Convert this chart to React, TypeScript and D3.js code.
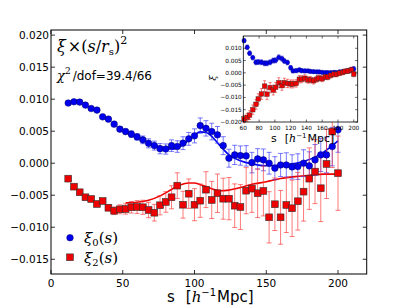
import React from 'react';
import * as d3 from 'd3';

// main panel: monopole / quadrupole times (s/rs)^2
const sMain = [12, 16, 20, 24, 28, 32, 36, 40, 44, 48, 52, 56, 60, 64, 68, 72, 76, 80, 84, 88, 92, 96, 100, 104,
  108, 112, 116, 120, 124, 128, 132, 136, 140, 144, 148, 152, 156, 160, 164, 168, 172, 176, 180, 184, 188, 192, 196, 200];
const xi0 = [0.00939, 0.00959, 0.00954, 0.00907, 0.00854, 0.00829, 0.00724, 0.00688, 0.0061, 0.00532, 0.00494, 0.00454,
  0.00411, 0.00365, 0.0031, 0.00275, 0.00227, 0.00221, 0.00274, 0.0026, 0.00313, 0.0038, 0.00427, 0.00587, 0.00544,
  0.00494, 0.00443, 0.00274, 0.00078, 0.0013, 0.00119, 0.00114, 0.00009, 0.00067, 0.00052, 0.0, -0.00078, -0.00027,
  -0.00027, -0.00058, -0.00053, 0.0, -0.00042, 0.00052, 0.0013, 0.0013, 0.0026, 0.00521];
const xi0Err = [0.0001, 0.0001, 0.0001, 0.0001, 0.0001, 0.0002, 0.0002, 0.0002, 0.0003, 0.0003, 0.0004, 0.0005, 0.0005,
  0.0006, 0.0007, 0.0007, 0.0008, 0.0008, 0.0009, 0.0009, 0.001, 0.001, 0.0011, 0.0012, 0.0012, 0.0013, 0.0013, 0.0014,
  0.0014, 0.0015, 0.0015, 0.0016, 0.0016, 0.0016, 0.0017, 0.0017, 0.0018, 0.0018, 0.0019, 0.0019, 0.002, 0.0021, 0.0022,
  0.0024, 0.0026, 0.0028, 0.003, 0.0035];
const xi2 = [-0.00241, -0.00366, -0.00454, -0.00532, -0.00559, -0.00637, -0.0059, -0.00695, -0.00742, -0.0072, -0.00715,
  -0.00688, -0.00684, -0.00688, -0.00731, -0.00773, -0.00657, -0.00605, -0.00532, -0.0035, -0.00648, -0.00476, -0.00648,
  -0.00585, -0.00413, -0.00574, -0.00469, -0.00554, -0.00554, -0.00663, -0.00684, -0.00429, -0.00397, -0.00469, -0.00433,
  -0.00845, -0.00641, -0.00845, -0.00652, -0.00704, -0.00594, -0.00444, -0.00241, -0.00131, -0.00391, -0.00011, 0.00494,
  -0.00156];
const xi2Err = [0.0002, 0.0002, 0.0002, 0.0002, 0.0003, 0.0003, 0.0004, 0.0005, 0.0006, 0.0007, 0.0008, 0.0009, 0.001,
  0.0011, 0.0012, 0.0013, 0.0015, 0.0016, 0.0018, 0.002, 0.0021, 0.0023, 0.0025, 0.0026, 0.0028, 0.0029, 0.003, 0.0032,
  0.0033, 0.0034, 0.0035, 0.0036, 0.0037, 0.0038, 0.0039, 0.004, 0.0041, 0.0042, 0.0043, 0.0044, 0.0045, 0.0046, 0.0048,
  0.005, 0.0052, 0.0054, 0.0056, 0.0058];

// best-fit model curves
const sModel0 = [52, 60, 70, 80, 85, 90, 95, 100, 104, 108, 112, 116, 120, 124, 132, 140, 150, 160, 173, 187, 200];
const model0 = [0.0049, 0.0041, 0.003, 0.0023, 0.0022, 0.0026, 0.0034, 0.0044, 0.0049, 0.0048, 0.0042, 0.0032, 0.0022,
  0.0013, 0.0004, -0.0001, -0.0004, -0.0003, 0.0001, 0.0013, 0.0035];
const sModel2 = [52, 60, 68, 76, 84, 90, 96, 100, 106, 112, 118, 124, 132, 140, 150, 160, 170, 180, 190, 200];
const model2 = [-0.0062, -0.0061, -0.0058, -0.0051, -0.0041, -0.0034, -0.0031, -0.0031, -0.0035, -0.004, -0.0043,
  -0.0042, -0.0038, -0.0033, -0.0029, -0.0024, -0.0021, -0.0019, -0.0017, -0.0017];

// inset: xi without the (s/rs)^2 weight
const sInset = [61, 65, 68, 72, 76, 79, 83, 87, 90, 94, 98, 101, 105, 109, 112, 116, 120, 123, 127, 131, 134, 138, 142,
  145, 149, 153, 156, 160, 164, 167, 171, 175, 178, 182, 186, 189, 193, 197, 200];
const inset0 = [0.0131, 0.0104, 0.0080, 0.0062, 0.0043, 0.0044, 0.0043, 0.0039, 0.0039, 0.0043, 0.005, 0.0051, 0.0063,
  0.0058, 0.0048, 0.0042, 0.0021, 0.0008, 0.0009, 0.0012, 0.0009, 0.0008, 0.0008, 0.0006, 0.0005, 0.0004, 0.0004,
  0.0002, 0.0001, 0.0001, 0.0001, 0.0002, 0.0001, 0.0004, 0.0005, 0.0006, 0.0008, 0.0012, 0.0016];
const inset2 = [-0.0188, -0.0181, -0.0172, -0.015, -0.0128, -0.0106, -0.0086, -0.0054, -0.0087, -0.006, -0.007, -0.0059,
  -0.004, -0.0052, -0.004, -0.0043, -0.0045, -0.0045, -0.0043, -0.0026, -0.0026, -0.0022, -0.0029, -0.0028, -0.0032,
  -0.0026, -0.0021, -0.0024, -0.0016, -0.0017, -0.001, -0.0005, -0.0006, -0.0001, 0.0002, 0.0006, 0.0008, 0.0012,
  -0.0005];
const inset0Err = [0.0008, 0.0009, 0.0009, 0.0009, 0.001, 0.001, 0.001, 0.001, 0.001, 0.001, 0.001, 0.001, 0.001,
  0.001, 0.0009, 0.0009, 0.0009, 0.0008, 0.0008, 0.0008, 0.0008, 0.0008, 0.0007, 0.0007, 0.0007, 0.0007, 0.0007,
  0.0007, 0.0007, 0.0007, 0.0007, 0.0007, 0.0007, 0.0007, 0.0008, 0.0008, 0.0009, 0.001, 0.001];
const inset2Err = [0.0015, 0.0016, 0.0018, 0.0019, 0.002, 0.0021, 0.0022, 0.0022, 0.0022, 0.0021, 0.002, 0.002, 0.002,
  0.0019, 0.0018, 0.0017, 0.0016, 0.0016, 0.0015, 0.0015, 0.0014, 0.0014, 0.0013, 0.0013, 0.0013, 0.0012, 0.0012,
  0.0012, 0.0011, 0.0011, 0.0011, 0.0011, 0.001, 0.001, 0.001, 0.001, 0.001, 0.0011, 0.0011];

const xTicks = [0, 50, 100, 150, 200];
const yTicks = [-0.015, -0.01, -0.005, 0, 0.005, 0.01, 0.015, 0.02];
const xTicksInset = [60, 80, 100, 120, 140, 160, 180, 200];
const yTicksInset = [-0.02, -0.015, -0.01, -0.005, 0, 0.005, 0.01];

const BLUE = '#0000ee';
const RED = '#ee0000';
const SANS = 'DejaVu Sans, sans-serif';
const SERIF = 'DejaVu Serif, serif';
const fmt = (v: number) => d3.format('.3f')(v).replace('-', '\u2212');

type Pt = { s: number; v: number; e: number };
const zip = (s: number[], v: number[], e: number[]): Pt[] => s.map((d, i) => ({ s: d, v: v[i], e: e[i] }));

const ErrorBars = ({ pts, x, y, color, cap, opacity }: any) => (
  <g stroke={color} strokeOpacity={opacity} strokeWidth={1}>
    {pts.map((p: Pt, i: number) => {
      const cx = x(p.s);
      const y0 = y(p.v - p.e);
      const y1 = y(p.v + p.e);
      return (
        <g key={i}>
          <line x1={cx} x2={cx} y1={y0} y2={y1} />
          <line x1={cx - cap} x2={cx + cap} y1={y0} y2={y0} />
          <line x1={cx - cap} x2={cx + cap} y1={y1} y2={y1} />
        </g>
      );
    })}
  </g>
);

export default function App() {
  const x = d3.scaleLinear().domain([0, 220]).range([51, 366.7]);
  const y = d3.scaleLinear().domain([-0.0173, 0.0208]).range([274, 30]);
  const xi = d3.scaleLinear().domain([60, 205]).range([243.3, 357.7]);
  const yi = d3.scaleLinear().domain([-0.02, 0.015]).range([122, 36]);

  const blue = zip(sMain, xi0, xi0Err);
  const red = zip(sMain, xi2, xi2Err);
  const blueIn = zip(sInset, inset0, inset0Err);
  const redIn = zip(sInset, inset2, inset2Err);

  const line = (xs: any, ys: any) =>
    d3.line<[number, number]>().x(d => xs(d[0])).y(d => ys(d[1])).curve(d3.curveMonotoneX);
  const path0 = line(x, y)(sModel0.map((s, i) => [s, model0[i]]));
  const path2 = line(x, y)(sModel2.map((s, i) => [s, model2[i]]));

  const [X0, X1] = x.range();
  const [Y0, Y1] = y.range();
  const [IX0, IX1] = xi.range();
  const [IY0, IY1] = yi.range();

  return (
    <div style={{ position: 'absolute', left: 0, top: 0 }}>
      <svg width={407} height={305} style={{ display: 'block', background: '#fff' }}>
        {/* model curves */}
        <path d={path0 || ''} fill="none" stroke={BLUE} strokeWidth={1.6} />
        <path d={path2 || ''} fill="none" stroke={RED} strokeWidth={1.6} />

        <ErrorBars pts={blue} x={x} y={y} color="#3333ff" cap={2.5} opacity={0.65} />
        <ErrorBars pts={red} x={x} y={y} color="#ff3333" cap={2.5} opacity={0.65} />

        {blue.map((p, i) => (
          <circle key={i} cx={x(p.s)} cy={y(p.v)} r={3.3} fill={BLUE} stroke="#000066" strokeWidth={0.5} />
        ))}
        {red.map((p, i) => (
          <rect key={i} x={x(p.s) - 3.4} y={y(p.v) - 3.4} width={6.8} height={6.8} fill={RED}
            stroke="#333" strokeWidth={0.6} />
        ))}

        {/* main frame and ticks */}
        <rect x={X0} y={Y1} width={X1 - X0} height={Y0 - Y1} fill="none" stroke="#000" strokeWidth={1} />
        <g stroke="#000" strokeWidth={0.8}>
          {xTicks.map(t => (
            <g key={t}>
              <line x1={x(t)} x2={x(t)} y1={Y0} y2={Y0 - 4} />
              <line x1={x(t)} x2={x(t)} y1={Y1} y2={Y1 + 4} />
            </g>
          ))}
          {yTicks.map(t => (
            <g key={t}>
              <line x1={X0} x2={X0 + 4} y1={y(t)} y2={y(t)} />
              <line x1={X1} x2={X1 - 4} y1={y(t)} y2={y(t)} />
            </g>
          ))}
        </g>
        <g fontFamily={SANS} fontSize={10.5} fill="#000">
          {xTicks.map(t => (
            <text key={t} x={x(t)} y={Y0 + 13} textAnchor="middle">{t}</text>
          ))}
          {yTicks.map(t => (
            <text key={t} x={X0 - 2} y={y(t) + 3.8} textAnchor="end">{fmt(t)}</text>
          ))}
        </g>

        {/* x label */}
        <text x={167} y={302} fontFamily={SANS} fontSize={15}>
          <tspan>s</tspan>
          <tspan dx={11}>[</tspan>
          <tspan fontFamily={SERIF} fontStyle="italic">h</tspan>
          <tspan fontSize={10} dy={-6}>{'\u22121'}</tspan>
          <tspan dy={6} dx={1}>Mpc]</tspan>
        </text>

        {/* annotations */}
        <text x={57} y={52} fontFamily={SERIF} fontSize={16}>
          <tspan fontStyle="italic">ξ</tspan>
          <tspan dx={2}>×(</tspan>
          <tspan fontStyle="italic">s</tspan>
          <tspan>/</tspan>
          <tspan fontStyle="italic">r</tspan>
          <tspan fontSize={10} dy={3}>s</tspan>
          <tspan dy={-3}>)</tspan>
          <tspan fontSize={11} dy={-8}>2</tspan>
        </text>
        <text x={57} y={80} fontSize={13}>
          <tspan fontFamily={SERIF} fontStyle="italic">χ</tspan>
          <tspan fontFamily={SERIF} fontSize={9} dy={-6}>2</tspan>
          <tspan fontFamily={SANS} fontSize={12} dy={6} dx={2}>/dof=39.4/66</tspan>
        </text>

        {/* legend */}
        <circle cx={70} cy={237.7} r={3.3} fill={BLUE} stroke="#000066" strokeWidth={0.5} />
        <rect x={66.6} y={253.9} width={6.8} height={6.8} fill={RED} stroke="#333" strokeWidth={0.6} />
        <text x={84} y={243} fontFamily={SERIF} fontSize={15}>
          <tspan fontStyle="italic">ξ</tspan>
          <tspan fontSize={10} dy={3}>0</tspan>
          <tspan dy={-3}>(</tspan>
          <tspan fontStyle="italic">s</tspan>
          <tspan>)</tspan>
        </text>
        <text x={84} y={262.5} fontFamily={SERIF} fontSize={15}>
          <tspan fontStyle="italic">ξ</tspan>
          <tspan fontSize={10} dy={3}>2</tspan>
          <tspan dy={-3}>(</tspan>
          <tspan fontStyle="italic">s</tspan>
          <tspan>)</tspan>
        </text>

        {/* inset */}
        <rect x={IX0} y={IY1} width={IX1 - IX0} height={IY0 - IY1} fill="#fff" />
        <ErrorBars pts={blueIn} x={xi} y={yi} color="#3333ff" cap={1.5} opacity={0.65} />
        <ErrorBars pts={redIn} x={xi} y={yi} color="#ff3333" cap={1.5} opacity={0.65} />
        {blueIn.map((p, i) => (
          <circle key={i} cx={xi(p.s)} cy={yi(p.v)} r={2.2} fill={BLUE} stroke="#000066" strokeWidth={0.4} />
        ))}
        {redIn.map((p, i) => (
          <rect key={i} x={xi(p.s) - 2.3} y={yi(p.v) - 2.3} width={4.6} height={4.6} fill={RED}
            stroke="#333" strokeWidth={0.4} />
        ))}
        <rect x={IX0} y={IY1} width={IX1 - IX0} height={IY0 - IY1} fill="none" stroke="#000" strokeWidth={0.8} />
        <g stroke="#000" strokeWidth={0.6}>
          {xTicksInset.map(t => (
            <g key={t}>
              <line x1={xi(t)} x2={xi(t)} y1={IY0} y2={IY0 - 2.5} />
              <line x1={xi(t)} x2={xi(t)} y1={IY1} y2={IY1 + 2.5} />
            </g>
          ))}
          {yTicksInset.map(t => (
            <g key={t}>
              <line x1={IX0} x2={IX0 + 2.5} y1={yi(t)} y2={yi(t)} />
              <line x1={IX1} x2={IX1 - 2.5} y1={yi(t)} y2={yi(t)} />
            </g>
          ))}
        </g>
        <g fontFamily={SANS} fontSize={5.8} fill="#000">
          {xTicksInset.map(t => (
            <text key={t} x={xi(t)} y={IY0 + 7.5} textAnchor="middle">{t}</text>
          ))}
          {yTicksInset.map(t => (
            <text key={t} x={IX0 - 1.5} y={yi(t) + 2} textAnchor="end">{fmt(t)}</text>
          ))}
        </g>
        <text x={271} y={142} fontFamily={SANS} fontSize={11}>
          <tspan>s</tspan>
          <tspan dx={8}>[</tspan>
          <tspan fontFamily={SERIF} fontStyle="italic">h</tspan>
          <tspan fontSize={7} dy={-4}>{'\u22121'}</tspan>
          <tspan dy={4} dx={1}>Mpc]</tspan>
        </text>
        <text transform="translate(216,78) rotate(-90)" fontFamily={SERIF} fontStyle="italic" fontSize={10}
          textAnchor="middle">ξ</text>
      </svg>
    </div>
  );
}
